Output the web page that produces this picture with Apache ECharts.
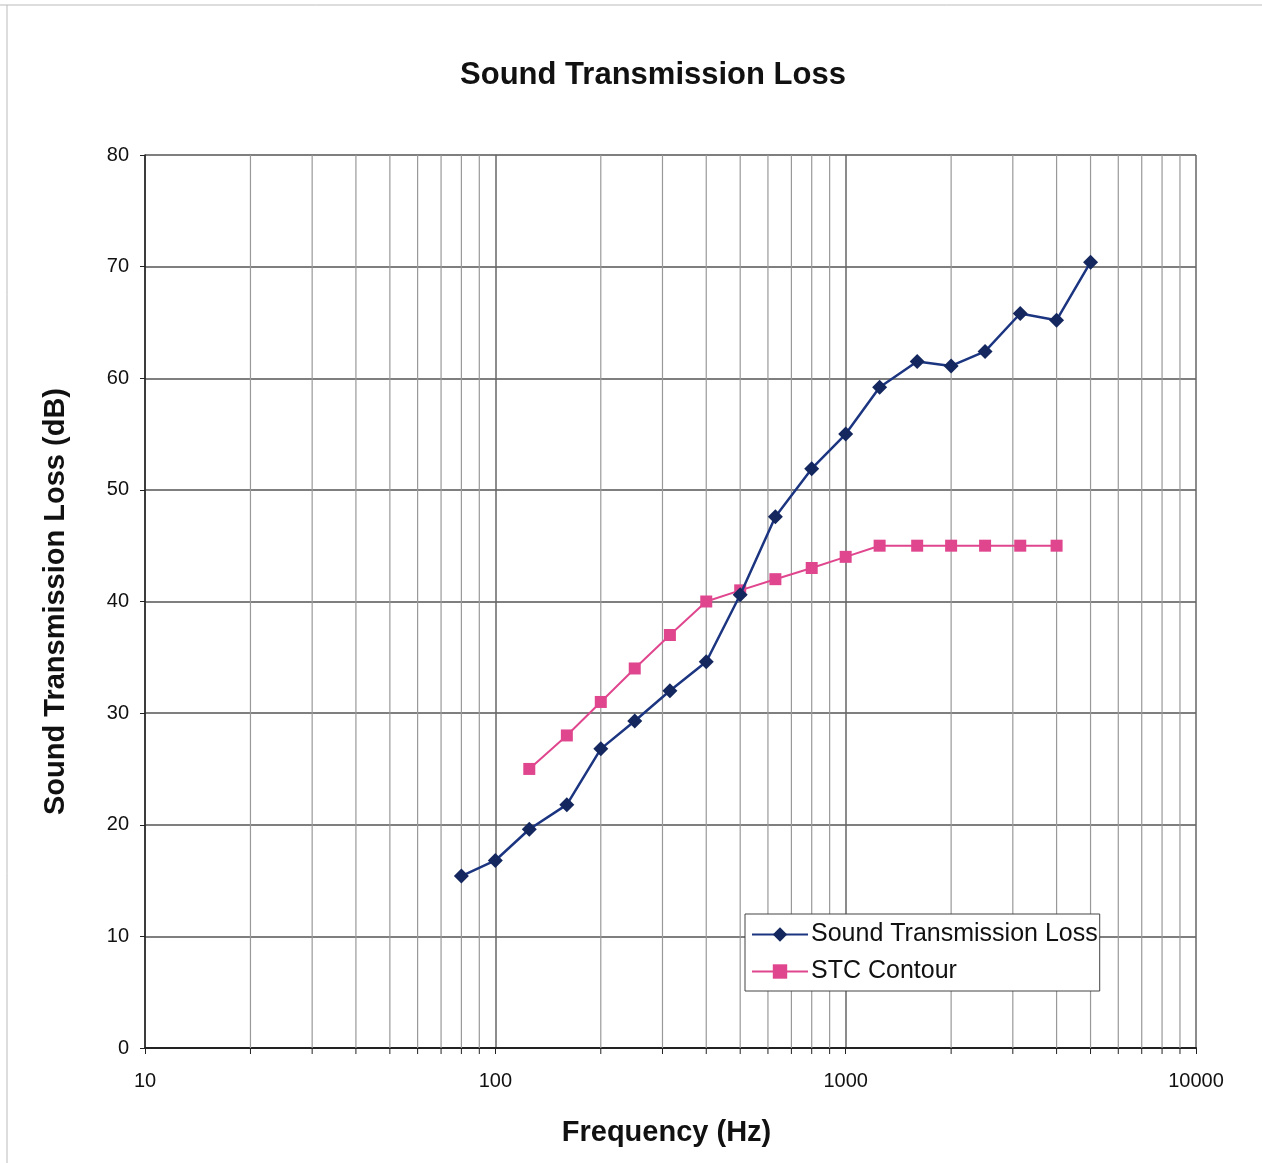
<!DOCTYPE html>
<html>
<head>
<meta charset="utf-8">
<script src="https://cdn.jsdelivr.net/npm/echarts@6/dist/echarts.min.js"></script>
<style>
  html, body { margin: 0; padding: 0; background: #fff; }
  #chart { width: 1262px; height: 1163px; }
</style>
</head>
<body>
<div id="chart"></div>
<script>
  // frequencies (Hz)
  const stlFreq = [80, 100, 125, 160, 200, 250, 315, 400, 500, 630, 800, 1000, 1250, 1600, 2000, 2500, 3150, 4000, 5000];
  const stlValues = [15.4, 16.8, 19.6, 21.8, 26.8, 29.3, 32.0, 34.6, 40.6, 47.6, 51.9, 55.0, 59.2, 61.5, 61.1, 62.4, 65.8, 65.2, 70.4];

  const stcFreq = [125, 160, 200, 250, 315, 400, 500, 630, 800, 1000, 1250, 1600, 2000, 2500, 3150, 4000];
  const stcValues = [25, 28, 31, 34, 37, 40, 41, 42, 43, 44, 45, 45, 45, 45, 45, 45];

  // minor log gridlines
  const minorFreq = [];
  [10, 100, 1000].forEach((d) => {
    for (let k = 2; k <= 9; k++) minorFreq.push(d * k);
  });

  const font = 'Arial, "Liberation Sans", sans-serif';
  const chart = echarts.init(document.getElementById('chart'));

  const option = {
    backgroundColor: '#fff',
    animation: false,
    title: {
      text: 'Sound Transmission Loss',
      left: 648,
      top: 55,
      textAlign: 'center',
      textStyle: { fontFamily: font, fontSize: 31, fontWeight: 'bold', color: '#111' },
    },
    graphic: [
      { type: 'line', shape: { x1: 0, y1: 5, x2: 1262, y2: 5 }, style: { stroke: '#bbb', lineWidth: 1 } },
      { type: 'line', shape: { x1: 7, y1: 5, x2: 7, y2: 1163 }, style: { stroke: '#bbb', lineWidth: 1 } },
    ],
    legend: {
      left: 745,
      top: 914,
      orient: 'vertical',
      backgroundColor: '#fff',
      borderColor: '#444',
      borderWidth: 1,
      padding: [8, 2, 7, 6],
      itemGap: 12,
      itemWidth: 56,
      itemHeight: 18,
      textStyle: { fontFamily: font, fontSize: 25, color: '#111', padding: [0, 0, 0, -2] },
      data: ['Sound Transmission Loss', 'STC Contour'],
    },
    grid: { left: 145, right: 66, top: 155, bottom: 115 },
    xAxis: {
      type: 'log',
      logBase: 10,
      min: 10,
      max: 10000,
      name: 'Frequency (Hz)',
      nameLocation: 'middle',
      nameGap: 70,
      nameTextStyle: { fontFamily: font, fontSize: 29, fontWeight: 'bold', color: '#111', padding: [0, 0, 0, -8] },
      axisLine: { lineStyle: { color: '#222', width: 2 } },
      axisTick: { show: true, length: 6, lineStyle: { color: '#222' } },
      axisLabel: { fontFamily: font, fontSize: 20, color: '#111', margin: 23, formatter: (v) => String(v) },
      splitLine: { show: true, lineStyle: { color: '#666', width: 1.5 } },
    },
    yAxis: {
      type: 'value',
      min: 0,
      max: 80,
      interval: 10,
      name: 'Sound Transmission Loss (dB)',
      nameLocation: 'middle',
      nameGap: 75,
      nameTextStyle: { fontFamily: font, fontSize: 29, fontWeight: 'bold', color: '#111' },
      axisLine: { show: true, lineStyle: { color: '#222', width: 1.5 } },
      axisTick: { show: true, length: 5, inside: false, lineStyle: { color: '#222' } },
      axisLabel: { fontFamily: font, fontSize: 20, color: '#111', margin: 16 },
      splitLine: { show: true, lineStyle: { color: '#555', width: 1.5 } },
    },
    series: [
      {
        type: 'custom',
        silent: true,
        z: 1,
        clip: false,
        data: minorFreq,
        encode: { x: 0 },
        renderItem: (params, api) => {
          const v = api.value(0);
          const top = api.coord([v, 80]);
          const bot = api.coord([v, 0]);
          return {
            type: 'group',
            children: [
              { type: 'line', shape: { x1: top[0], y1: top[1], x2: bot[0], y2: bot[1] }, style: { stroke: '#999', lineWidth: 1.2 } },
              { type: 'line', shape: { x1: bot[0], y1: bot[1], x2: bot[0], y2: bot[1] + 6 }, style: { stroke: '#222', lineWidth: 1 } },
            ],
          };
        },
      },
      {
        type: 'line',
        name: 'STC Contour',
        z: 3,
        data: stcFreq.map((f, i) => [f, stcValues[i]]),
        symbol: 'rect',
        symbolSize: 12,
        lineStyle: { color: '#e0468e', width: 2 },
        itemStyle: { color: '#e0468e' },
      },
      {
        type: 'line',
        name: 'Sound Transmission Loss',
        z: 4,
        data: stlFreq.map((f, i) => [f, stlValues[i]]),
        symbol: 'diamond',
        symbolSize: 15,
        lineStyle: { color: '#1c3580', width: 2.5 },
        itemStyle: { color: '#14275e' },
      },
    ],
  };

  chart.setOption(option);
</script>
</body>
</html>
